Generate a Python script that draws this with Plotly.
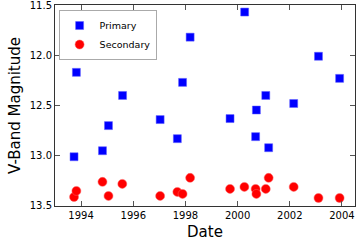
import plotly.graph_objects as go

primary_date = [1993.73, 1993.82, 1994.82, 1995.05, 1995.59, 1997.03, 1997.69, 1997.89, 1998.18,
                1999.71, 2000.27, 2000.69, 2000.72, 2001.08, 2001.19, 2002.15, 2003.10, 2003.91]
primary_mag = [13.01, 12.17, 12.95, 12.70, 12.40, 12.64, 12.83, 12.27, 11.82,
               12.63, 11.57, 12.81, 12.545, 12.40, 12.92, 12.48, 12.01, 12.23]

secondary_date = [1993.73, 1993.82, 1994.82, 1995.05, 1995.58, 1997.03, 1997.69, 1997.89, 1998.18,
                  1999.71, 2000.26, 2000.69, 2000.72, 2001.08, 2001.19, 2002.15, 2003.10, 2003.91]
secondary_mag = [13.41, 13.35, 13.26, 13.40, 13.28, 13.40, 13.36, 13.38, 13.22,
                 13.33, 13.31, 13.33, 13.38, 13.33, 13.22, 13.31, 13.42, 13.42]

x_ticks = [1994, 1996, 1998, 2000, 2002, 2004]
y_ticks = [11.5, 12.0, 12.5, 13.0, 13.5]

fig = go.Figure()
fig.add_trace(go.Scatter(x=primary_date, y=primary_mag, mode="markers", name="Primary",
                         marker=dict(symbol="square", size=8, color="#0000ff",
                                     line=dict(width=0.5, color="#6060ff"))))
fig.add_trace(go.Scatter(x=secondary_date, y=secondary_mag, mode="markers", name="Secondary",
                         marker=dict(symbol="circle", size=9, color="#ff0000",
                                     line=dict(width=0.5, color="#ff6060"))))

axis_common = dict(showgrid=False, zeroline=False, showline=True, linecolor="#333333", linewidth=1,
                   ticks="inside", ticklen=5, tickcolor="#555555", mirror="ticks", automargin=False,
                   ticklabeloverflow="allow",
                   tickfont=dict(family="DejaVu Sans", size=10, color="black"))

fig.update_layout(
    width=357, height=241,
    margin=dict(l=55, r=2, t=5, b=35),
    paper_bgcolor="white", plot_bgcolor="white",
    showlegend=True,
    legend=dict(x=0.012, y=0.975, xanchor="left", yanchor="top",
                bordercolor="#aaaaaa", borderwidth=1, bgcolor="white",
                font=dict(family="DejaVu Sans", size=9.5, color="black"),
                tracegroupgap=0, itemwidth=30),
    xaxis=dict(range=[1993, 2004.5], tickvals=x_ticks, ticktext=[str(v) for v in x_ticks],
               title=dict(text="Date", font=dict(family="DejaVu Sans", size=15, color="black"), standoff=12),
               **axis_common),
    yaxis=dict(range=[13.5001, 11.4999], tickvals=y_ticks, ticktext=[f"{v:.1f}" for v in y_ticks],
               title=dict(text="V-Band Magnitude", font=dict(family="DejaVu Sans", size=15, color="black"), standoff=5),
               **axis_common),
)

fig.write_html("out.html", config={"displayModeBar": False},
               post_script="document.body.style.margin='0';")
